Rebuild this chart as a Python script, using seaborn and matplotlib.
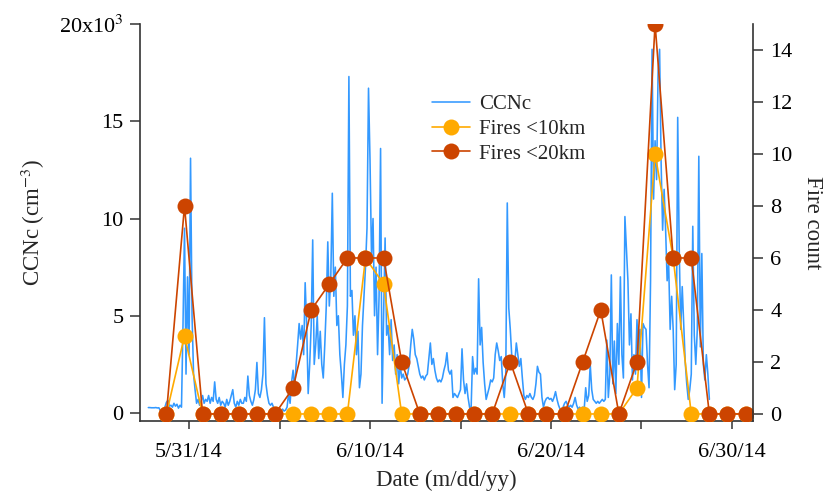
import numpy as np
import pandas as pd
import matplotlib
matplotlib.use("Agg")
import matplotlib.pyplot as plt
import seaborn as sns

# ---------------- data ----------------
ccnc_start = "2014-05-28 18:00"   # first CCNc sample, 2-hourly after that
ccnc_step = "2h"
# CCNc values in thousands per cm^3
ccnc_k = [
    0.28, 0.28, 0.27,                                                   # 5/28 18-22h
    0.27, 0.27, 0.28, 0.26, 0.27, 0.12, 0.10, 0.15, 0.30, 0.55, 0.65, 0.35,  # 5/29
    0.40, 0.30, 0.50, 0.35, 0.45, 0.25, 0.40, 0.30, 4.5, 9.5, 2.0, 7.0,      # 5/30
    3.0, 13.1, 5.0, 2.0, 1.2, 0.5, 0.7, 0.4, 0.6, 0.9, 0.5, 0.7,             # 5/31
    0.6, 0.9, 0.5, 0.8, 0.6, 1.6, 0.7, 0.5, 0.8, 0.4, 0.6, 0.5,              # 6/1
    0.3, 0.7, 0.4, 0.6, 0.9, 1.2, 0.5, 0.3, 0.6, 0.4, 0.7, 0.5,              # 6/2
    0.5, 0.8, 0.6, 1.9, 0.9, 0.6, 0.4, 0.7, 1.2, 2.6, 1.0, 0.8,              # 6/3
    1.2, 2.0, 4.9, 1.5, 0.9, 0.5, 0.4, 0.5, 0.3, 0.2, 0.12, 0.1,             # 6/4
    0.15, 0.1, 0.2, 0.1, 0.15, 0.3, 1.0, 0.5, 1.6, 2.2, 1.2, 2.5,            # 6/5
    3.5, 4.6, 3.8, 4.5, 3.0, 6.7, 4.5, 1.0, 2.5, 4.5, 8.9, 2.5,              # 6/6
    3.5, 5.0, 2.8, 4.2, 2.5, 1.8, 3.5, 5.5, 8.8, 5.5, 7.0, 11.3,             # 6/7
    6.0, 7.5, 4.5, 5.0, 3.0, 2.0, 0.8, 2.5, 3.5, 5.5, 17.3, 6.0,             # 6/8
    6.3, 4.0, 5.0, 3.0, 4.2, 1.3, 2.0, 4.5, 6.0, 7.5, 9.5, 16.7,             # 6/9
    13.0, 8.0, 10.0, 5.0, 7.5, 3.0, 6.0, 13.6, 0.5, 5.0, 9.0, 4.0,           # 6/10
    4.5, 3.0, 4.8, 2.7, 3.5, 2.0, 3.0, 1.5, 2.5, 1.8, 2.0, 1.7,              # 6/11
    1.8, 2.0, 2.5, 3.5, 4.3, 3.8, 3.0, 2.8, 2.4, 2.0, 1.8, 1.9,              # 6/12
    1.7, 1.9, 2.0, 2.8, 3.6, 2.5, 2.8, 2.2, 1.8, 1.6, 1.7, 1.6,              # 6/13
    1.8, 2.2, 2.5, 3.1, 2.2, 2.0, 2.2, 0.8, 1.0, 0.9, 0.8, 1.0,              # 6/14
    1.2, 3.3, 1.7, 1.0, 1.5, 0.8, 0.3, 0.15, 2.9, 2.0, 2.3, 2.0,             # 6/15
    6.9, 3.5, 4.4, 2.6, 1.5, 0.7, 1.0, 1.3, 1.7, 1.6, 1.8, 3.0,              # 6/16
    3.6, 3.2, 2.7, 2.9, 1.5, 0.8, 2.0, 10.8, 5.4, 4.3, 2.9, 2.4,             # 6/17
    2.6, 3.6, 3.0, 2.4, 2.8, 1.8, 0.9, 0.7, 0.9, 0.8, 1.0, 0.8,              # 6/18
    0.7, 0.9, 1.5, 2.4, 2.1, 2.0, 0.8, 0.3, 0.6, 0.75, 0.8, 0.7,             # 6/19
    0.75, 0.6, 0.8, 1.1, 0.7, 0.4, 0.2, 0.15, 0.3, 0.5, 0.6, 0.4,            # 6/20
    0.3, 0.4, 0.3, 0.5, 0.8, 0.4, 0.2, 0.3, 0.15, 0.3, 0.2, 1.3,             # 6/21
    0.6, 0.9, 2.5, 1.2, 0.7, 0.6, 0.5, 0.6, 0.5, 0.6, 0.7, 0.6,              # 6/22
    0.7, 3.75, 0.8, 2.0, 7.1, 1.5, 3.7, 1.0, 4.6, 2.5, 7.0, 3.0,             # 6/23
    1.8, 10.1, 8.5, 6.8, 3.5, 5.1, 1.7, 3.0, 2.0, 4.8, 3.0, 4.3,             # 6/24
    0.8, 4.6, 4.4, 4.3, 2.5, 1.3, 6.8, 18.7, 11.0, 14.0, 12.0, 17.5,         # 6/25
    18.7, 12.9, 9.4, 11.5, 9.4, 6.8, 7.7, 4.3, 6.0, 4.3, 1.2, 2.5,           # 6/26
    15.2, 8.5, 4.3, 6.5, 4.5, 2.6, 1.5, 0.7, 1.2, 2.0, 9.6, 4.0,             # 6/27
    2.5, 4.3, 13.2, 3.4, 8.2, 2.5, 1.7, 3.0, 2.0, 0.7,                       # 6/28
]

fire_start = "2014-05-29 18:00"   # daily fire counts
fires_10km = [0, 3, 0, 0, 0, 0, 0, 0, 0, 0, 0, 6, 5, 0, 0, 0, 0,
              0, 0, 0, 0, 0, 0, 0, 0, 0, 1, 10, 6, 0, 0, 0, 0]
fires_20km = [0, 8, 0, 0, 0, 0, 0, 1, 4, 5, 6, 6, 6, 2, 0, 0, 0,
              0, 0, 2, 0, 0, 0, 2, 4, 0, 2, 15, 6, 6, 0, 0, 0]

xtick_dates = ["2014-05-31", "2014-06-05", "2014-06-10", "2014-06-15",
               "2014-06-20", "2014-06-25", "2014-06-30"]
xtick_labels = ["5/31/14", "", "6/10/14", "", "6/20/14", "", "6/30/14"]
left_ticks = [0, 5000, 10000, 15000, 20000]
left_tick_labels = ["0", "5", "10", "15", "20x10$^{3}$"]
right_ticks = [0, 2, 4, 6, 8, 10, 12, 14]

# ---------------- style ----------------
sns.set_theme(style="ticks")
plt.rcParams["font.family"] = ["Liberation Serif", "DejaVu Serif"]
plt.rcParams["mathtext.fontset"] = "stix"

C_BLUE = "#3399FF"
C_YEL = "#FFAA00"
C_RED = "#CC4400"
C_AX = "#333333"
FS_TICK = 16
FS_LAB = 16.5
FS_LEG = 15

ccnc_times = pd.date_range(ccnc_start, periods=len(ccnc_k), freq=ccnc_step)
ccnc_vals = np.array(ccnc_k) * 1000.0
fire_times = pd.date_range(fire_start, periods=len(fires_20km), freq="1D")

fig = plt.figure(figsize=(8.27, 4.94), dpi=100)
ax = fig.add_axes([0.1693, 0.1478, 0.7412, 0.8036])

sns.lineplot(x=ccnc_times, y=ccnc_vals, ax=ax, color=C_BLUE, linewidth=1.15,
             label="CCNc", legend=False)

ax2 = ax.twinx()
sns.lineplot(x=fire_times, y=fires_10km, ax=ax2, color=C_YEL, linewidth=1.2,
             marker="o", markersize=11.5, markeredgewidth=0,
             label="Fires <10km", legend=False)
sns.lineplot(x=fire_times, y=fires_20km, ax=ax2, color=C_RED, linewidth=1.2,
             marker="o", markersize=11.5, markeredgewidth=0,
             label="Fires <20km", legend=False)

ax.set_xlim(pd.Timestamp("2014-05-28 07:00"), pd.Timestamp("2014-07-01 03:50"))
ax.set_ylim(-410, 20000)
ax2.set_ylim(-0.27, 15.0)

ax.set_xticks(pd.to_datetime(xtick_dates))
ax.set_xticklabels(xtick_labels)
ax.set_yticks(left_ticks)
ax.set_yticklabels(left_tick_labels)
ax2.set_yticks(right_ticks)
ax2.set_yticklabels([str(t) for t in right_ticks])

for a in (ax, ax2):
    a.spines["top"].set_visible(False)
    for s in a.spines.values():
        s.set_color(C_AX)
        s.set_linewidth(1.2)
ax2.spines["left"].set_visible(False)
ax2.spines["bottom"].set_visible(False)
ax.spines["right"].set_visible(False)

ax.tick_params(axis="y", direction="out", length=7, width=1.1, pad=5,
               labelsize=FS_TICK, color=C_AX, labelcolor="black")
ax.tick_params(axis="x", direction="out", length=5.8, width=1.1, pad=10,
               labelsize=FS_TICK, color=C_AX, labelcolor="black")
ax2.tick_params(axis="y", direction="out", length=7.5, width=1.1, pad=5,
                labelsize=FS_TICK, color=C_AX, labelcolor="black")

ax.set_xlabel("Date (m/dd/yy)", fontsize=FS_LAB)
ax.xaxis.set_label_coords(0.5, -0.124)
ax.set_ylabel("CCNc (cm$^{-3}$)", fontsize=FS_LAB)
ax.yaxis.set_label_coords(-0.152, 0.5)
ax2.set_ylabel("Fire count", fontsize=FS_LAB, rotation=270)
ax2.yaxis.label.set_verticalalignment("bottom")
ax2.yaxis.set_label_coords(1.080, 0.5)

handles = ax.get_lines()[:1] + ax2.get_lines()[:2]
labels = [h.get_label() for h in handles]
fig.legend(handles, labels, loc="upper left",
           bbox_to_anchor=(432 / 827, 1 - 94.5 / 494), frameon=False,
           fontsize=FS_LEG, borderpad=0, borderaxespad=0, handlelength=1.83,
           handletextpad=0.43, labelspacing=0.25)

fig.savefig("out.png", dpi=100)
